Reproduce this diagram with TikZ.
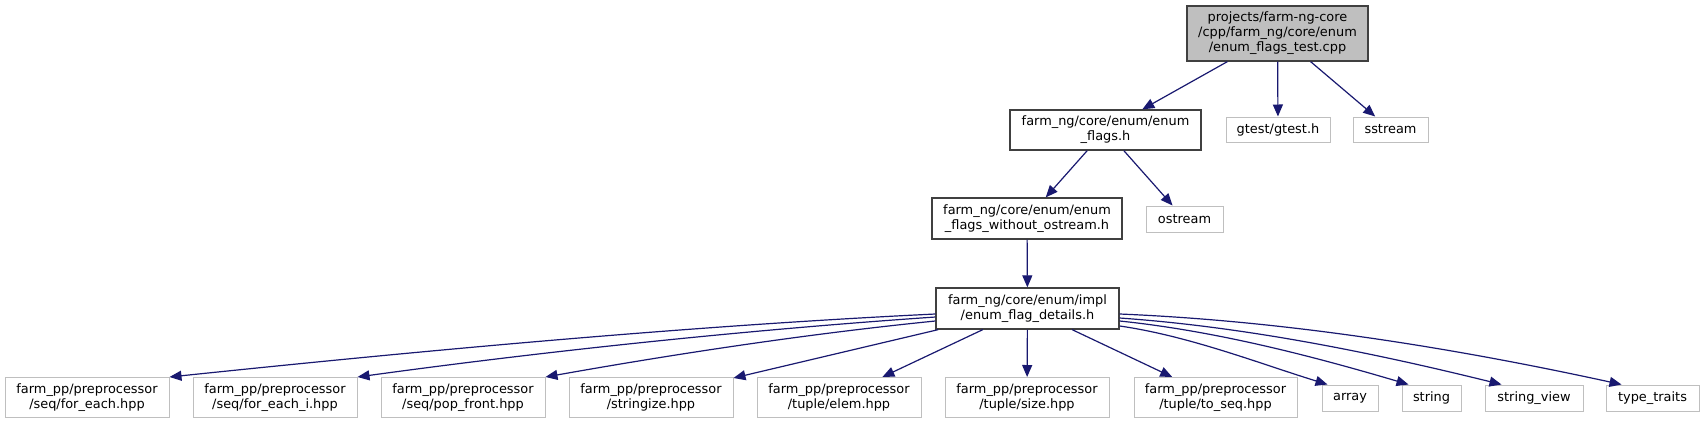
\documentclass[tikz,border=0pt]{standalone}
\usepackage{fontspec}
\setmainfont{DejaVu Sans}
\usetikzlibrary{arrows.meta}
\definecolor{navyc}{HTML}{191970}
\definecolor{darkb}{HTML}{404040}
\definecolor{lightb}{HTML}{BFBFBF}
\definecolor{rootfill}{HTML}{BFBFBF}
\tikzset{
  box/.style={rectangle, inner sep=0pt, align=center, font=\fontsize{12.9}{15}\selectfont, text=black},
  mainbox/.style={box, draw=darkb, line width=1.3pt, fill=white},
  extbox/.style={box, draw=lightb, line width=1pt, fill=white},
  dep/.style={draw=navyc, line width=1.2pt, -{Triangle[length=12pt,width=10pt]}},
}
\begin{document}
\begin{tikzpicture}[x=1pt,y=-1pt]
\fill[white] (0,0) rectangle (1704,424);
\useasboundingbox (0,0) rectangle (1704,424);

\node[mainbox, fill=rootfill, minimum width=181pt, minimum height=55pt] (root) at (1277.5,33.5)
  {projects/farm-ng-core\\/cpp/farm\_ng/core/enum\\/enum\_flags\_test.cpp};
\node[mainbox, minimum width=191pt, minimum height=40pt] (flags) at (1105.5,130)
  {farm\_ng/core/enum/enum\\\_flags.h};
\node[extbox, minimum width=104pt, minimum height=25pt] (gtest) at (1278,129.5) {gtest/gtest.h};
\node[extbox, minimum width=75pt, minimum height=25pt] (sstream) at (1390.5,129.5) {sstream};
\node[mainbox, minimum width=190pt, minimum height=41pt] (wo) at (1027,218.5)
  {farm\_ng/core/enum/enum\\\_flags\_without\_ostream.h};
\node[extbox, minimum width=77pt, minimum height=26pt] (ostream) at (1184.5,219) {ostream};
\node[mainbox, minimum width=183pt, minimum height=41pt] (details) at (1027.5,308.5)
  {farm\_ng/core/enum/impl\\/enum\_flag\_details.h};

\node[extbox, minimum width=164pt, minimum height=40pt] (foreach) at (87,397.5)
  {farm\_pp/preprocessor\\/seq/for\_each.hpp};
\node[extbox, minimum width=164pt, minimum height=40pt] (foreachi) at (275,397.5)
  {farm\_pp/preprocessor\\/seq/for\_each\_i.hpp};
\node[extbox, minimum width=164pt, minimum height=40pt] (popfront) at (463,397.5)
  {farm\_pp/preprocessor\\/seq/pop\_front.hpp};
\node[extbox, minimum width=164pt, minimum height=40pt] (stringize) at (651,397.5)
  {farm\_pp/preprocessor\\/stringize.hpp};
\node[extbox, minimum width=164pt, minimum height=40pt] (elem) at (839,397.5)
  {farm\_pp/preprocessor\\/tuple/elem.hpp};
\node[extbox, minimum width=164pt, minimum height=40pt] (size) at (1027,397.5)
  {farm\_pp/preprocessor\\/tuple/size.hpp};
\node[extbox, minimum width=163pt, minimum height=40pt] (toseq) at (1215.5,397.5)
  {farm\_pp/preprocessor\\/tuple/to\_seq.hpp};
\node[extbox, minimum width=56pt, minimum height=26pt] (array) at (1350,398) {array};
\node[extbox, minimum width=59pt, minimum height=26pt] (string) at (1431.5,398) {string};
\node[extbox, minimum width=98pt, minimum height=26pt] (stringview) at (1534,398) {string\_view};
\node[extbox, minimum width=93pt, minimum height=26pt] (typetraits) at (1652.5,398) {type\_traits};

\draw[dep] (root) -- (flags);
\draw[dep] (root) -- (gtest);
\draw[dep] (root) -- (sstream);
\draw[dep] (flags) -- (wo);
\draw[dep] (flags) -- (ostream);
\draw[dep] (wo) -- (details);

\draw[dep] ([yshift=-5.5pt]details.west) .. controls (686,326) and (419,351) .. (foreach.north east);
\draw[dep] ([yshift=-8.5pt]details.west) .. controls (746,330) and (547,351) .. (foreachi.north east);
\draw[dep] ([yshift=-12.5pt]details.west) .. controls (806,334) and (675,354) .. (popfront.north east);
\draw[dep] (details) -- (stringize);
\draw[dep] (details) -- (elem);
\draw[dep] (details) -- (size);
\draw[dep] (details) -- (toseq);
\draw[dep] ([yshift=-17.5pt]details.east) .. controls (1189,336) and (1258,363) .. ([xshift=6pt]array.north west);
\draw[dep] ([yshift=-12.5pt]details.east) .. controls (1216,331) and (1312,356) .. ([xshift=7pt]string.north west);
\draw[dep] ([yshift=-9.5pt]details.east) .. controls (1247,327) and (1374,353) .. ([xshift=17pt]stringview.north west);
\draw[dep] ([yshift=-5.5pt]details.east) .. controls (1287,321) and (1454,348) .. ([xshift=16pt]typetraits.north west);
\end{tikzpicture}
\end{document}
